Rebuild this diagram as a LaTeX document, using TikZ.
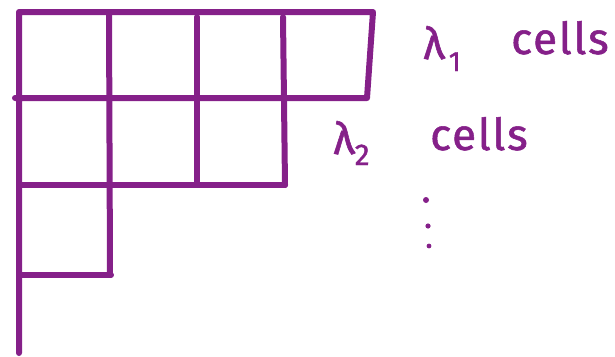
\documentclass[tikz,border=0pt]{standalone}
\usepackage{fontspec}
\setmainfont{Fira Sans}[LetterSpace=4, FakeBold=1.2]
\definecolor{inkc}{RGB}{133,32,137}
\begin{document}
\begin{tikzpicture}[x=1pt,y=-1pt,
  ink/.style={draw=inkc, line width=6pt, line cap=round, line join=round},
  hand/.style={text=inkc, inner sep=0pt, anchor=base west, font=\fontsize{44}{44}\selectfont},
  dot/.style={fill=inkc, draw=none}]
\useasboundingbox (0,0) rectangle (615,356);
% frame
\draw[ink] (19,353) -- (19,12) -- (373,12) -- (367,98) -- (15,98);
\draw[ink] (109,12) -- (110,275);
\draw[ink] (197,17) -- (197,183);
\draw[ink] (283,17) -- (285,185);
\draw[ink] (19,185) -- (285,185);
\draw[ink] (19,275) -- (111,275);
% labels
\node[hand] (l1) at (423,59) {λ\hspace{4pt}\raisebox{-12pt}{\fontsize{28}{28}\selectfont 1}};
\node[hand] (c1) at (511,54) {cells};
\node[hand] (l2) at (333,154) {λ\raisebox{-11pt}{\fontsize{30}{30}\selectfont 2}};
\node[hand] (c2) at (430,150) {cells};
\fill[dot] (426,200) circle (3pt);
\fill[dot] (428,226) circle (2.6pt);
\fill[dot] (429,246) circle (2.4pt);
\end{tikzpicture}
\end{document}
